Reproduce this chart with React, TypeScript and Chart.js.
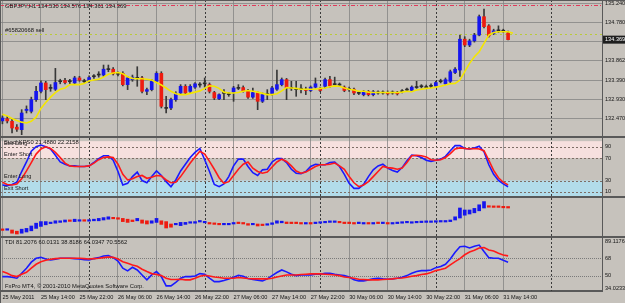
import React, { useEffect, useRef } from 'react';
import { Chart, registerables } from 'chart.js';

Chart.register(...registerables);

// ---------------- data ----------------
const symbolHeader = 'GBPJPY,H1 134.530 134.576 134.361 134.369';
const orderLabel = '#65820668 sell';
const stochHeader = 'StochKPS0 21.4880 22.2158';
const tdiHeader = 'TDI 81.2076 60.0131 38.8186 64.0347 70.5562';
const copyrightText = 'FxPro MT4, \u00a9 2001-2010 MetaQuotes Software Corp.';

const xTickLabels = [
  '25 May 2011', '25 May 14:00', '25 May 22:00', '26 May 06:00', '26 May 14:00',
  '26 May 22:00', '27 May 06:00', '27 May 14:00', '27 May 22:00', '30 May 06:00',
  '30 May 14:00', '30 May 22:00', '31 May 06:00', '31 May 14:00',
];
const slotCount = 125;
const labelEvery = 8;
const daySeparatorBars = [18, 42, 66, 90, 114];

const openPrices = [
  132.42, 132.47, 132.41, 132.27, 132.21, 132.67, 132.65, 132.93, 133.13, 133.33,
  133.20, 133.18, 133.36, 133.39, 133.36, 133.33, 133.45, 133.36, 133.38, 133.48,
  133.52, 133.52, 133.65, 133.66, 133.54, 133.56, 133.29, 133.41, 133.44, 133.45,
  133.13, 133.17, 133.37, 133.56, 132.72, 132.73, 132.93, 133.09, 133.25, 133.13,
  133.23, 133.28, 133.31, 133.29, 133.10, 132.95, 133.08, 133.05, 133.11, 133.20,
  133.22, 133.13, 132.99, 133.09, 132.89, 133.05, 133.07, 133.18, 133.29, 133.41,
  133.20, 133.17, 133.18, 133.18, 133.15, 133.23, 133.18, 133.25, 133.41, 133.29,
  133.28, 133.23, 133.17, 133.18, 133.08, 133.05, 133.13, 133.05, 133.09, 133.09,
  133.10, 133.09, 133.10, 133.12, 133.16, 133.15, 133.22, 133.24, 133.22, 133.25,
  133.25, 133.36, 133.31, 133.37, 133.58, 133.64, 134.38, 134.24, 134.34, 134.48,
  134.92, 134.70, 134.52, 134.58, 134.57, 134.53,
];
const highPrices = [
  132.54, 132.53, 132.46, 132.33, 132.69, 132.78, 132.99, 133.25, 133.38, 133.37,
  133.29, 133.68, 133.42, 133.44, 133.42, 133.49, 133.49, 133.42, 133.50, 133.53,
  133.60, 133.76, 133.76, 133.70, 133.60, 133.60, 133.49, 133.52, 133.72, 133.49,
  133.21, 133.41, 133.60, 133.60, 133.01, 132.97, 133.12, 133.29, 133.29, 133.29,
  133.34, 133.34, 133.45, 133.33, 133.13, 133.07, 133.17, 133.10, 133.25, 133.29,
  133.26, 133.18, 133.21, 133.12, 133.09, 133.17, 133.25, 133.64, 133.45, 133.44,
  133.37, 133.37, 133.29, 133.23, 133.26, 133.45, 133.23, 133.45, 133.49, 133.47,
  133.33, 133.26, 133.23, 133.21, 133.13, 133.15, 133.15, 133.15, 133.14, 133.14,
  133.14, 133.14, 133.13, 133.17, 133.21, 133.26, 133.37, 133.29, 133.28, 133.31,
  133.37, 133.42, 133.45, 133.64, 133.70, 134.48, 134.44, 134.38, 134.52, 134.96,
  135.10, 134.73, 134.62, 134.70, 134.62, 134.576,
];
const lowPrices = [
  132.35, 132.37, 132.13, 132.17, 132.09, 132.61, 132.61, 132.89, 133.09, 132.93,
  133.13, 133.15, 133.31, 133.31, 133.31, 133.29, 133.37, 133.33, 133.34, 133.44,
  133.47, 133.49, 133.60, 133.52, 133.50, 133.26, 133.17, 133.37, 133.25, 133.09,
  133.05, 133.14, 133.34, 132.73, 132.61, 132.69, 132.89, 133.05, 133.05, 133.09,
  133.20, 133.23, 133.23, 133.09, 132.93, 132.93, 132.93, 133.01, 132.89, 133.17,
  133.11, 132.96, 132.96, 132.69, 132.86, 132.93, 133.04, 133.15, 133.26, 132.93,
  133.15, 133.01, 133.09, 133.05, 133.12, 133.21, 133.12, 133.21, 133.23, 133.25,
  133.25, 133.12, 133.13, 133.05, 133.05, 133.02, 133.02, 133.02, 133.06, 133.06,
  133.04, 133.06, 133.04, 133.09, 133.12, 133.13, 133.20, 133.21, 133.20, 133.22,
  133.22, 133.33, 133.29, 133.34, 133.55, 133.49, 134.20, 134.20, 134.31, 134.46,
  134.65, 134.43, 134.49, 134.54, 134.54, 134.361,
];
const closePrices = [
  132.49, 132.42, 132.25, 132.22, 132.61, 132.70, 132.93, 133.13, 133.33, 133.17,
  133.21, 133.34, 133.37, 133.34, 133.37, 133.45, 133.40, 133.37, 133.46, 133.49,
  133.53, 133.66, 133.67, 133.55, 133.56, 133.29, 133.45, 133.47, 133.45, 133.13,
  133.17, 133.37, 133.56, 132.77, 132.73, 132.93, 133.07, 133.25, 133.09, 133.25,
  133.31, 133.29, 133.33, 133.13, 132.97, 133.05, 133.09, 133.07, 133.21, 133.21,
  133.14, 132.99, 133.10, 132.89, 133.05, 133.07, 133.21, 133.29, 133.41, 133.21,
  133.21, 133.19, 133.19, 133.15, 133.23, 133.31, 133.15, 133.41, 133.26, 133.31,
  133.29, 133.15, 133.19, 133.09, 133.09, 133.13, 133.05, 133.12, 133.11, 133.11,
  133.07, 133.11, 133.07, 133.13, 133.17, 133.23, 133.24, 133.25, 133.24, 133.27,
  133.34, 133.37, 133.41, 133.60, 133.66, 134.38, 134.24, 134.34, 134.48, 134.92,
  134.68, 134.46, 134.58, 134.59, 134.59, 134.369,
];
const maValues = [
  132.58, 132.54, 132.48, 132.43, 132.39, 132.37, 132.41, 132.51, 132.72, 132.86,
  132.99, 133.10, 133.18, 133.21, 133.29, 133.29, 133.29, 133.32, 133.38, 133.40,
  133.42, 133.47, 133.54, 133.57, 133.58, 133.55, 133.48, 133.44, 133.43, 133.43,
  133.42, 133.40, 133.34, 133.28, 133.21, 133.13, 133.07, 133.05, 133.05, 133.08,
  133.11, 133.14, 133.20, 133.26, 133.25, 133.20, 133.11, 133.09, 133.09, 133.10,
  133.13, 133.15, 133.13, 133.11, 133.08, 133.05, 133.05, 133.07, 133.14, 133.22,
  133.21, 133.20, 133.18, 133.18, 133.18, 133.18, 133.20, 133.21, 133.24, 133.26,
  133.25, 133.21, 133.18, 133.16, 133.13, 133.13, 133.11, 133.10, 133.10, 133.10,
  133.10, 133.10, 133.10, 133.11, 133.13, 133.12, 133.16, 133.18, 133.20, 133.21,
  133.23, 133.25, 133.28, 133.31, 133.32, 133.40, 133.60, 133.80, 133.96, 134.08,
  134.28, 134.48, 134.54, 134.56, 134.56, 134.56, 134.52,
];
const priceTicks = [135.24, 134.78, 134.32, 133.862, 133.39, 132.93, 132.47, 132.01];
const priceMin = 132.01;
const priceMax = 135.32;
const orderPrice = 134.5;
const stopPrice = 135.19;

const stochMain = [
  22, 21, 23, 27, 46, 63, 82, 90, 93, 90,
  86, 75, 63, 59, 56, 56, 55, 55, 56, 62,
  69, 74, 74, 66, 46, 22, 25, 37, 45, 30,
  26, 37, 47, 39, 28, 19, 31, 47, 59, 71,
  80, 87, 67, 46, 23, 19, 24, 37, 56, 68,
  68, 55, 44, 39, 49, 50, 63, 69, 69, 62,
  50, 43, 42, 46, 55, 59, 58, 58, 62, 63,
  55, 41, 25, 16, 16, 23, 37, 49, 56, 59,
  52, 48, 45, 53, 65, 75, 74, 71, 66, 64,
  66, 68, 73, 83, 92, 92, 87, 86, 88, 91,
  81, 58, 41, 30, 24, 19,
];
const stochSignal = [
  27, 23, 22, 24, 33, 47, 62, 77, 86, 90,
  87, 80, 71, 61, 56, 55, 55, 55, 56, 61,
  67, 71, 72, 71, 59, 41, 31, 33, 37, 39,
  34, 36, 39, 38, 31, 26, 27, 37, 49, 61,
  72, 82, 77, 64, 50, 35, 25, 28, 39, 50,
  59, 63, 52, 46, 43, 45, 54, 63, 68, 64,
  56, 47, 43, 45, 50, 55, 58, 58, 59, 61,
  56, 50, 37, 26, 19, 22, 28, 37, 46, 55,
  53, 52, 50, 52, 62, 74, 75, 74, 72, 67,
  66, 67, 71, 78, 86, 88, 87, 86, 87, 86,
  83, 66, 48, 35, 27, 22.2,
];
const stochLevels = [90, 70, 30, 10];
const stochLevelNames = ['Exit Long', 'Enter Short', 'Enter Long', 'Exit Short'];

const haOpen = [
  16, 14.5, 15, 12, 7, 10, 13, 19, 24, 28,
  31, 32, 34, 35, 38.5, 36, 37, 39, 37, 38,
  38, 40, 42, 45, 44, 44, 42, 40, 38, 40,
  38, 32, 34, 38, 36, 30, 28, 26, 29, 32,
  32, 35, 33, 33, 32, 30, 28, 28, 30, 33,
  32, 31, 28, 30, 28, 27, 29, 32, 33, 35,
  33, 32, 32, 30, 32, 31, 32, 33, 34, 34,
  35, 34, 33, 32, 31, 30, 32, 30, 32, 31,
  32, 30, 31, 32, 33, 32, 33, 33.5, 34, 34,
  34.5, 35, 35, 36, 40, 45, 52, 55, 58, 63,
  70, 74.5, 73, 73, 72, 72,
];
const haClose = [
  14, 15.5, 7, 5, 17, 19, 25, 32, 36, 36,
  33, 38, 38, 40, 36.5, 42, 39, 37, 39, 42,
  44, 46, 48, 43, 42, 36, 34, 36, 44, 32,
  30, 38, 44, 29, 20, 22, 30, 34, 34, 34,
  36, 37, 35, 30, 29, 28, 29, 30, 33, 31,
  30, 27, 31, 25, 26, 30, 33, 38, 37, 31,
  31, 31, 30, 32, 30, 34, 34, 36, 36, 36,
  33, 31, 31, 30, 31.5, 32, 30, 32, 31, 31.5,
  30, 32, 32, 34, 35, 34, 34, 34.5, 35, 35,
  36, 36, 37, 40, 48, 70, 65, 65, 69, 78,
  86, 72, 71.5, 71.5, 70.5, 70,
];

const tdiPrice = [
  49, 49, 48.3, 47.3, 52.5, 57.7, 64, 68, 69, 67.3,
  66.2, 67, 68, 68, 68, 67.7, 67.3, 66.6, 66.2, 67.7,
  68.7, 70.4, 70.8, 68.7, 65.2, 57.7, 54.9, 58.7, 55.9, 50.7,
  45.6, 50.7, 54.2, 49, 39.3, 39.3, 43.1, 47.3, 49, 49,
  49.7, 52.1, 51.4, 47.3, 43.8, 43.8, 44.9, 46.6, 48.3, 50.4,
  49.3, 47, 45.9, 45.3, 44.5, 46.6, 50, 53.2, 55.9, 53.9,
  51.4, 50, 50.7, 50.7, 50.7, 51.4, 51.4, 52.5, 52.5, 51.4,
  50.7, 50, 48.6, 45.6, 44.5, 44.5, 45.6, 46.6, 47.3, 46.6,
  46.3, 46.6, 47.3, 48.3, 50, 52.5, 54.2, 55.2, 55.2, 55.9,
  58.3, 59.4, 61.8, 67.3, 74.3, 80.1, 80.5, 78.8, 80.5, 81.8,
  75, 68.7, 68, 68, 65.9, 64.03,
];
const tdiSignal = [
  54.2, 52.5, 50, 49, 51.4, 53.5, 57.7, 61.8, 64.5, 65.9,
  67, 67.7, 68, 68, 68, 68, 68, 67.7, 67.3, 67.7,
  68, 68.7, 69.4, 69, 67.3, 64.5, 62.8, 61.1, 59.7, 56.6,
  54.2, 52.1, 51.1, 50, 47.3, 45.9, 45.9, 46.3, 45.6, 45.6,
  47.3, 49.3, 50.4, 49.7, 48.6, 48, 47.3, 47.3, 47.3, 48,
  47.6, 47, 46.6, 46.6, 46.6, 46.6, 47.3, 48.6, 49.7, 50.7,
  50.7, 50.7, 51.1, 51.4, 51.8, 51.8, 51.8, 51.4, 51.1, 50.7,
  50, 48.6, 48, 47.3, 46.3, 45.9, 45.6, 45.6, 45.6, 45.9,
  46.3, 46.6, 47.3, 47.6, 48.3, 49.3, 50, 51.1, 51.8, 53.2,
  55.2, 56.3, 57.7, 61.1, 64.5, 67.7, 71.7, 74.6, 76.3, 78.8,
  79.1, 76.7, 75.6, 73.3, 71.5, 70.56,
];
const tdiLevels = [68, 50];
const tdiTicks = [68, 50];
const tdiMin = 34.0233;
const tdiMax = 89.1176;

// ---------------- styles ----------------
const FONT = '"Liberation Sans", Arial, sans-serif';
const BG = '#c6c2bc';
const GRID = 'rgba(128,128,128,0.75)';
const SEP = '#595959';
const TEXT = '#151515';
const BULL = '#1515ee';
const BEAR = '#ee1b10';
const DOJI = '#2a2a2a';
const WICK = '#383838';
const MA_COLOR = '#f4e600';
const LINE_BLUE = '#1a1aff';
const LINE_RED = '#ff1a1a';
const AXIS_W = 23;
const TICK_FONT = { family: FONT, size: 5.6 };

const categories = Array.from({ length: slotCount }, (_, i) =>
  i % labelEvery === 0 && xTickLabels[i / labelEvery] ? xTickLabels[i / labelEvery] : ''
);

function makeX(showLabels: boolean) {
  return {
    type: 'category',
    offset: true,
    grid: {
      offset: false,
      drawTicks: false,
      lineWidth: 1,
      color: (c: any) => (categories[c.index] ? GRID : 'rgba(0,0,0,0)'),
    },
    border: { display: showLabels, color: SEP, width: 2 },
    ticks: {
      display: showLabels,
      autoSkip: false,
      maxRotation: 0,
      minRotation: 0,
      align: 'start',
      padding: 3,
      font: TICK_FONT,
      color: TEXT,
      callback: (_v: any, i: number) => categories[i],
    },
    afterFit: (s: any) => {
      s.height = showLabels ? 12 : 0;
      s.paddingLeft = 0;
      s.paddingRight = 0;
    },
  };
}

function makeY(min: number, max: number, tickVals: number[], fmt: (v: number) => string, grid: boolean) {
  return {
    position: 'right',
    min,
    max,
    afterBuildTicks: (s: any) => {
      s.ticks = tickVals.map((v) => ({ value: v }));
    },
    afterFit: (s: any) => {
      s.width = AXIS_W;
      s.paddingTop = 0;
      s.paddingBottom = 0;
    },
    grid: { display: grid, drawTicks: false, color: GRID, lineWidth: 1 },
    border: { display: true, color: SEP, width: 1 },
    ticks: { padding: 3, font: TICK_FONT, color: TEXT, callback: (v: any) => fmt(Number(v)) },
  };
}

const baseOptions = {
  responsive: false,
  maintainAspectRatio: false,
  animation: false,
  devicePixelRatio: 1,
  events: [],
  layout: { padding: 0 },
  plugins: { legend: { display: false }, tooltip: { enabled: false } },
};

const daySeparatorPlugin = {
  id: 'daySeparators',
  beforeDatasetsDraw(chart: any) {
    const { ctx, chartArea } = chart;
    const xs = chart.scales.x;
    ctx.save();
    ctx.strokeStyle = '#3a3a3a';
    ctx.lineWidth = 1;
    ctx.setLineDash([2, 2]);
    daySeparatorBars.forEach((b) => {
      const px = Math.round(xs.getPixelForValue(b)) + 0.5;
      ctx.beginPath();
      ctx.moveTo(px, chartArea.top);
      ctx.lineTo(px, chartArea.bottom);
      ctx.stroke();
    });
    ctx.restore();
  },
};

function hLine(chart: any, value: number, color: string, dash: number[]) {
  const { ctx, chartArea } = chart;
  const py = Math.round(chart.scales.y.getPixelForValue(value)) + 0.5;
  ctx.save();
  ctx.strokeStyle = color;
  ctx.lineWidth = 1;
  ctx.setLineDash(dash);
  ctx.beginPath();
  ctx.moveTo(chartArea.left, py);
  ctx.lineTo(chartArea.right, py);
  ctx.stroke();
  ctx.restore();
  return py;
}

function text(chart: any, str: string, x: number, y: number, color = TEXT, size = 5.8, base = 'middle') {
  const { ctx } = chart;
  ctx.save();
  ctx.font = `${size}px ${FONT}`;
  ctx.fillStyle = color;
  ctx.textBaseline = base;
  ctx.textAlign = 'left';
  ctx.fillText(str, x, y);
  ctx.restore();
}

const mainDecor = {
  id: 'mainDecor',
  beforeDatasetsDraw(chart: any) {
    hLine(chart, stopPrice, '#e03a5a', [4, 2, 1, 2]);
    hLine(chart, orderPrice, '#bccb38', [2, 3]);
  },
  afterDraw(chart: any) {
    const { ctx, chartArea } = chart;
    text(chart, symbolHeader, 5, 6);
    const oy = chart.scales.y.getPixelForValue(orderPrice);
    text(chart, orderLabel, 5, oy - 4);
    const last = closePrices[closePrices.length - 1];
    const py = chart.scales.y.getPixelForValue(last);
    ctx.save();
    ctx.fillStyle = '#1e1e1e';
    ctx.fillRect(chartArea.right + 1, py - 4, AXIS_W, 8);
    ctx.restore();
    text(chart, last.toFixed(3), chartArea.right + 3, py, '#ffffff', 5.6);
  },
};

const stochDecor = {
  id: 'stochDecor',
  beforeDraw(chart: any) {
    const { ctx, chartArea } = chart;
    const y = chart.scales.y;
    ctx.save();
    ctx.beginPath();
    ctx.rect(chartArea.left, chartArea.top, chartArea.right - chartArea.left, chartArea.bottom - chartArea.top);
    ctx.clip();
    ctx.fillStyle = '#f6e0de';
    ctx.fillRect(chartArea.left, y.getPixelForValue(100), chartArea.right - chartArea.left, y.getPixelForValue(70) - y.getPixelForValue(100));
    ctx.fillStyle = '#b2dcea';
    ctx.fillRect(chartArea.left, y.getPixelForValue(30), chartArea.right - chartArea.left, y.getPixelForValue(0) - y.getPixelForValue(30));
    ctx.restore();
  },
  beforeDatasetsDraw(chart: any) {
    stochLevels.forEach((lv) => hLine(chart, lv, '#7e6e66', [2, 2]));
  },
  afterDatasetsDraw(chart: any) {
    const y = chart.scales.y;
    stochLevels.forEach((lv, i) => {
      text(chart, stochLevelNames[i], 4, y.getPixelForValue(lv) - 1, TEXT, 5.6, 'bottom');
    });
    text(chart, stochHeader, 4, chart.chartArea.top + 4);
  },
};

const tdiDecor = {
  id: 'tdiDecor',
  beforeDatasetsDraw(chart: any) {
    tdiLevels.forEach((lv) => hLine(chart, lv, '#7a7a7a', [1, 1]));
  },
  afterDraw(chart: any) {
    const { chartArea } = chart;
    text(chart, tdiHeader, 5, chartArea.top + 4);
    text(chart, copyrightText, 5, chartArea.bottom - 5);
    text(chart, tdiMax.toFixed(4), chartArea.right + 3, chartArea.top + 3, TEXT, 5.6);
    text(chart, tdiMin.toFixed(4), chartArea.right + 3, chartArea.bottom - 3, TEXT, 5.6);
  },
};

export default function App() {
  const mainRef = useRef<HTMLCanvasElement>(null);
  const stochRef = useRef<HTMLCanvasElement>(null);
  const haRef = useRef<HTMLCanvasElement>(null);
  const tdiRef = useRef<HTMLCanvasElement>(null);

  useEffect(() => {
    const bodyColors = openPrices.map((o, i) => {
      const c = closePrices[i];
      if (Math.abs(c - o) < 0.025) return DOJI;
      return c > o ? BULL : BEAR;
    });
    const haColors = haOpen.map((o, i) => (haClose[i] >= o ? BULL : BEAR));

    const charts: Chart[] = [];

    charts.push(
      new Chart(mainRef.current as HTMLCanvasElement, {
        type: 'bar',
        data: {
          labels: categories,
          datasets: [
            {
              type: 'line',
              data: maValues,
              borderColor: MA_COLOR,
              borderWidth: 1.6,
              pointRadius: 0,
              tension: 0,
              order: 0,
            } as any,
            {
              data: openPrices.map((o, i) => [o, closePrices[i]]),
              backgroundColor: bodyColors,
              barThickness: 3,
              minBarLength: 1,
              grouped: false,
              order: 1,
            },
            {
              data: lowPrices.map((l, i) => [l, highPrices[i]]),
              backgroundColor: WICK,
              barThickness: 1,
              grouped: false,
              order: 2,
            },
          ],
        },
        options: {
          ...baseOptions,
          scales: {
            x: makeX(false),
            y: makeY(priceMin, priceMax, priceTicks, (v) => v.toFixed(3), true),
          },
        } as any,
        plugins: [daySeparatorPlugin, mainDecor],
      })
    );

    charts.push(
      new Chart(stochRef.current as HTMLCanvasElement, {
        type: 'line',
        data: {
          labels: categories,
          datasets: [
            { data: stochSignal, borderColor: LINE_RED, borderWidth: 1.6, pointRadius: 0, tension: 0, order: 0 },
            { data: stochMain, borderColor: LINE_BLUE, borderWidth: 1.6, pointRadius: 0, tension: 0, order: 1 },
          ],
        },
        options: {
          ...baseOptions,
          scales: {
            x: makeX(false),
            y: makeY(2.5, 105.6, stochLevels, (v) => String(v), false),
          },
        } as any,
        plugins: [daySeparatorPlugin, stochDecor],
      })
    );

    charts.push(
      new Chart(haRef.current as HTMLCanvasElement, {
        type: 'bar',
        data: {
          labels: categories,
          datasets: [
            {
              data: haOpen.map((o, i) => [o, haClose[i]]),
              backgroundColor: haColors,
              barThickness: 3,
              minBarLength: 1.5,
              grouped: false,
            },
          ],
        },
        options: {
          ...baseOptions,
          scales: {
            x: makeX(false),
            y: makeY(0, 95, [], (v) => String(v), false),
          },
        } as any,
        plugins: [daySeparatorPlugin],
      })
    );

    charts.push(
      new Chart(tdiRef.current as HTMLCanvasElement, {
        type: 'line',
        data: {
          labels: categories,
          datasets: [
            { data: tdiSignal, borderColor: LINE_RED, borderWidth: 1.6, pointRadius: 0, tension: 0, order: 0 },
            { data: tdiPrice, borderColor: LINE_BLUE, borderWidth: 1.6, pointRadius: 0, tension: 0, order: 1 },
          ],
        },
        options: {
          ...baseOptions,
          scales: {
            x: makeX(true),
            y: makeY(tdiMin, tdiMax, tdiTicks, (v) => String(v), false),
          },
        } as any,
        plugins: [daySeparatorPlugin, tdiDecor],
      })
    );

    return () => charts.forEach((c) => c.destroy());
  }, []);

  const abs = (top: number, height: number): React.CSSProperties => ({
    position: 'absolute',
    left: 0,
    top,
    width: 625,
    height,
    display: 'block',
  });
  const sep = (top: number): React.CSSProperties => ({
    position: 'absolute',
    left: 0,
    top,
    width: 625,
    height: 2,
    background: SEP,
    zIndex: 2,
  });

  return (
    <div
      style={{
        position: 'fixed',
        left: 0,
        top: 0,
        width: 625,
        height: 303,
        background: BG,
        overflow: 'hidden',
      }}
    >
      <canvas ref={mainRef} width={625} height={138} style={abs(0, 138)} />
      <canvas ref={stochRef} width={625} height={58} style={abs(138, 58)} />
      <canvas ref={haRef} width={625} height={38} style={abs(198, 38)} />
      <canvas ref={tdiRef} width={625} height={65} style={abs(238, 65)} />
      <div style={sep(136)} />
      <div style={sep(196)} />
      <div style={sep(236)} />
      <div style={{ position: 'absolute', left: 0, top: 0, width: 1, height: 303, background: SEP, zIndex: 2 }} />
      <div style={{ position: 'absolute', left: 0, top: 0, width: 625, height: 1, background: SEP, zIndex: 2 }} />
    </div>
  );
}
